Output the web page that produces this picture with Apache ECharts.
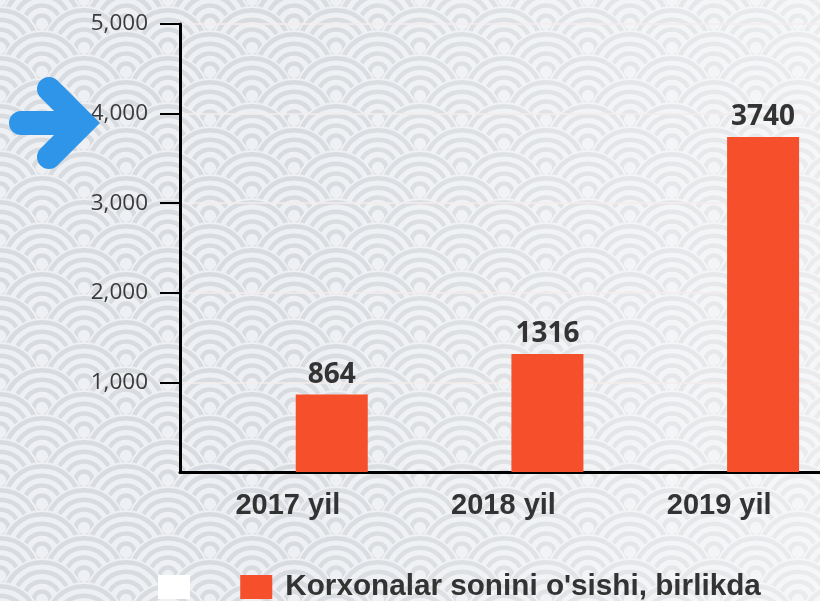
<!DOCTYPE html>
<html>
<head>
<meta charset="utf-8">
<script src="https://cdn.jsdelivr.net/npm/echarts@6/dist/echarts.min.js"></script>
<style>
  html, body { margin: 0; padding: 0; }
  #chart { width: 820px; height: 601px; }
</style>
</head>
<body>
<div id="chart"></div>
<script>
// data
var categories = ["2017 yil", "2018 yil", "2019 yil"];
var blankValues = [0, 0, 0];
var growthValues = [864, 1316, 3740];
var seriesNames = [" ", "Korxonalar sonini o'sishi, birlikda"];
var yTicks = [0, 1000, 2000, 3000, 4000, 5000];

// seigaiha background tile
function makeTile(R, step) {
  var c = document.createElement("canvas");
  c.width = 2 * R;
  c.height = 2 * step;
  var ctx = c.getContext("2d");
  ctx.fillStyle = "#eef0f3";
  ctx.fillRect(0, 0, c.width, c.height);
  var rings = [0.9, 0.67, 0.44, 0.2];
  for (var j = -8; j <= 8; j++) {
    var y = j * step;
    var off = (Math.abs(j) % 2 === 0) ? 0 : R;
    for (var x = -4 * R + off; x <= 4 * R; x += 2 * R) {
      ctx.beginPath();
      ctx.arc(x, y, R, 0, Math.PI * 2);
      ctx.fillStyle = "#eef0f3";
      ctx.fill();
      ctx.strokeStyle = "#d8dbdf";
      ctx.lineWidth = 4.5;
      for (var k = 0; k < rings.length; k++) {
        ctx.beginPath();
        ctx.arc(x, y, R * rings[k], 0, Math.PI * 2);
        ctx.stroke();
      }
    }
  }
  return c.toDataURL();
}
var el = document.getElementById("chart");
el.style.backgroundImage = "linear-gradient(to right, rgba(255,255,255,0) 35%, rgba(255,255,255,0.45) 100%), url(" + makeTile(42, 24) + ")";

var myChart = echarts.init(el);
var option = {
  backgroundColor: "transparent",
  animation: false,
  grid: {
    left: 180,
    top: 24,
    width: 647,
    bottom: 129,
    containLabel: false,
    outerBoundsMode: "none"
  },
  legend: {
    left: 158,
    top: 572,
    padding: 0,
    itemWidth: 32,
    itemHeight: 24,
    itemGap: 29,
    icon: "rect",
    data: seriesNames,
    textStyle: {
      fontFamily: "Liberation Sans, Arial, sans-serif",
      fontWeight: "bold",
      fontSize: 29.7,
      color: "#333",
      padding: [0, 0, 0, 8]
    }
  },
  xAxis: {
    type: "category",
    data: categories,
    axisLine: { lineStyle: { color: "#000", width: 3 } },
    axisTick: { alignWithLabel: true, length: 20, lineStyle: { color: "#000", width: 2 } },
    axisLabel: {
      margin: 19,
      fontFamily: "Liberation Sans, Arial, sans-serif",
      fontWeight: "bold",
      fontSize: 29,
      color: "#333"
    }
  },
  yAxis: {
    type: "value",
    min: yTicks[0],
    max: yTicks[yTicks.length - 1],
    interval: 1000,
    axisLine: { show: true, lineStyle: { color: "#000", width: 3 } },
    axisTick: {
      show: true,
      length: 20,
      customValues: yTicks.slice(1),
      lineStyle: { color: "#000", width: 2 }
    },
    axisLabel: {
      margin: 32,
      customValues: yTicks.slice(1),
      fontFamily: "Open Sans, Noto Sans, sans-serif",
      fontSize: 22.5,
      color: "#3a3a3a",
      formatter: function (v) {
        return v === 0 ? "" : v.toLocaleString("en-US");
      }
    },
    splitLine: { lineStyle: { color: "#f4eded", width: 1.5 } }
  },
  graphic: [
    {
      type: "polyline",
      z: 100,
      shape: { points: [[21, 123], [80, 123]] },
      style: { stroke: "#2e95e9", lineWidth: 24, lineCap: "round" }
    },
    {
      type: "polyline",
      z: 100,
      shape: { points: [[49, 89], [83, 123], [49, 157]] },
      style: { stroke: "#2e95e9", lineWidth: 24, lineCap: "round", lineJoin: "miter" }
    }
  ],
  series: [
    {
      name: seriesNames[0],
      type: "bar",
      barWidth: 72,
      barGap: "22%",
      itemStyle: { color: "#ffffff" },
      data: blankValues
    },
    {
      name: seriesNames[1],
      type: "bar",
      barWidth: 72,
      itemStyle: { color: "#f54f2b" },
      label: {
        show: true,
        position: "top",
        distance: 6,
        fontFamily: "Open Sans, Noto Sans, sans-serif",
        fontWeight: "bold",
        fontSize: 28,
        color: "#333"
      },
      data: growthValues
    }
  ]
};
myChart.setOption(option);
</script>
</body>
</html>
